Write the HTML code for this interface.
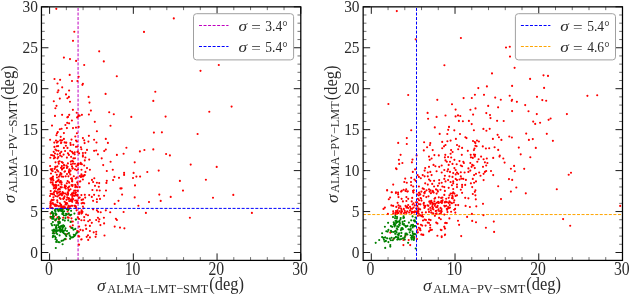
<!DOCTYPE html>
<html><head><meta charset="utf-8"><style>
html,body{margin:0;padding:0;background:#fff;width:630px;height:295px;overflow:hidden}
svg{display:block;will-change:transform}
text{font-family:"Liberation Serif",serif;fill:#2b2b2b}
.t{font-size:16.6px}
.tx{font-size:18.2px}
.lg{font-size:14.8px}
.ax{font-size:18px}
</style></head><body>
<svg width="630" height="295" viewBox="0 0 630 295">
<line x1="363.15" y1="214.55" x2="622.49" y2="214.55" stroke="#ffa500" stroke-width="1" stroke-dasharray="3.0 1.55"/>
<line x1="78.07" y1="260.40" x2="78.07" y2="6.85" stroke="#bf00bf" stroke-width="1" stroke-dasharray="2.99 1.545"/>
<path d="M56.3 8.8h0M173.8 18.4h0M74.3 31.7h0M144.0 31.9h0M73.0 40.8h0M99.2 51.3h0M63.9 57.6h0M70.0 59.1h0M76.1 60.9h0M103.8 61.4h0M84.2 65.0h0M200.5 70.8h0M69.7 74.9h0M78.7 76.7h0M116.8 76.2h0M54.5 79.0h0M60.1 79.8h0M72.0 81.0h0M77.4 81.0h0M218.8 65.0h0M57.5 83.5h0M82.9 83.8h0M82.4 84.8h0M62.2 87.3h0M58.4 90.4h0M57.6 92.2h0M69.1 90.5h0M66.0 94.4h0M105.6 93.9h0M68.9 96.9h0M67.4 98.2h0M59.8 98.6h0M88.6 96.9h0M53.8 101.2h0M70.0 101.7h0M89.5 102.6h0M56.5 105.8h0M55.4 108.2h0M72.9 109.8h0M90.9 110.6h0M76.7 112.7h0M109.2 112.2h0M113.8 114.2h0M55.0 115.9h0M62.1 114.8h0M69.2 114.8h0M78.7 115.3h0M79.7 115.7h0M81.9 114.8h0M88.9 114.5h0M67.3 117.3h0M68.0 116.9h0M77.1 117.4h0M78.2 116.3h0M155.3 91.7h0M153.3 100.9h0M231.6 106.6h0M209.3 111.7h0M131.3 116.9h0M165.6 116.6h0M153.9 132.6h0M161.9 132.3h0M197.6 134.0h0M126.4 147.7h0M123.6 153.7h0M139.9 151.4h0M144.4 150.0h0M153.3 149.4h0M166.1 154.0h0M169.9 155.4h0M134.7 162.3h0M190.7 164.6h0M216.7 166.9h0M124.1 172.9h0M124.1 174.9h0M133.6 172.9h0M136.4 176.6h0M133.0 178.0h0M140.1 176.6h0M147.3 172.0h0M158.7 170.6h0M179.9 180.9h0M205.9 179.7h0M135.0 185.4h0M121.6 188.3h0M183.0 190.6h0M122.1 194.6h0M159.3 194.6h0M134.7 197.4h0M170.7 196.9h0M213.0 197.7h0M233.3 194.9h0M149.0 202.0h0M160.7 200.9h0M138.4 205.7h0M123.6 212.0h0M145.9 212.9h0M189.9 217.7h0M251.9 212.9h0M124.4 228.3h0M71.9 120.5h0M67.2 122.8h0M69.1 123.3h0M65.4 125.0h0M94.8 121.8h0M52.0 125.6h0M110.5 125.7h0M59.8 129.2h0M61.6 128.7h0M66.9 128.1h0M73.0 128.1h0M76.0 127.6h0M78.7 126.9h0M57.8 132.1h0M57.0 133.2h0M96.9 131.2h0M63.9 133.1h0M76.9 133.2h0M56.4 135.2h0M60.7 136.8h0M88.9 135.8h0M75.3 136.5h0M63.9 138.9h0M82.9 138.1h0M50.1 139.7h0M71.5 139.6h0M94.1 139.7h0M105.8 138.9h0M56.0 140.6h0M57.9 141.6h0M60.6 140.3h0M76.0 140.6h0M84.2 140.3h0M54.3 142.6h0M56.9 142.6h0M61.3 142.6h0M84.6 143.1h0M88.4 141.6h0M96.5 142.5h0M107.9 142.9h0M70.7 144.9h0M56.8 146.2h0M58.1 146.1h0M63.9 147.9h0M67.5 147.9h0M76.0 146.8h0M80.9 147.2h0M81.4 149.2h0M55.4 149.5h0M56.5 150.5h0M58.5 150.8h0M53.7 151.8h0M61.3 151.8h0M65.1 151.0h0M70.2 150.8h0M72.0 151.8h0M74.7 152.3h0M77.8 151.6h0M87.0 149.9h0M94.1 150.8h0M96.2 150.5h0M104.2 151.0h0M105.8 149.5h0M55.0 153.5h0M57.5 154.3h0M60.0 153.3h0M63.6 154.6h0M67.9 153.3h0M68.9 154.9h0M73.0 153.3h0M74.7 154.3h0M79.1 153.3h0M82.9 153.0h0M85.4 152.8h0M82.9 155.2h0M97.9 154.3h0M116.9 154.9h0M52.4 155.2h0M54.0 155.8h0M82.9 156.6h0M85.4 157.5h0M84.8 160.4h0M89.2 159.6h0M101.7 158.3h0M110.6 161.7h0M81.9 164.2h0M84.2 165.5h0M103.2 165.1h0M87.0 168.1h0M89.9 169.7h0M85.4 171.9h0M112.8 169.7h0M106.8 171.0h0M81.4 174.4h0M84.8 175.1h0M83.5 176.3h0M80.8 176.9h0M82.9 179.5h0M114.4 176.9h0M119.0 177.8h0M113.1 180.1h0M92.0 179.9h0M94.3 178.2h0M93.1 182.0h0M96.9 182.7h0M99.2 183.1h0M106.8 180.8h0M106.4 182.9h0M89.0 183.3h0M95.0 185.8h0M98.8 186.7h0M79.7 187.1h0M92.4 190.0h0M96.9 190.3h0M99.7 190.5h0M106.0 190.5h0M120.4 188.4h0M89.2 195.1h0M94.1 194.8h0M98.8 195.7h0M104.1 195.7h0M81.4 195.1h0M84.8 194.8h0M85.2 197.6h0M81.6 199.9h0M79.7 197.6h0M91.8 196.9h0M96.9 199.2h0M100.0 198.9h0M93.1 200.8h0M96.9 202.0h0M114.7 203.9h0M118.5 200.8h0M81.6 203.3h0M84.2 203.3h0M82.9 206.5h0M93.1 209.3h0M96.9 210.3h0M98.1 211.8h0M100.7 212.2h0M105.8 210.3h0M110.2 212.2h0M81.6 210.3h0M79.1 212.2h0M79.1 213.9h0M81.4 213.6h0M86.1 214.5h0M88.0 215.2h0M84.2 217.1h0M79.1 219.0h0M81.4 220.2h0M84.2 220.2h0M88.2 221.2h0M89.9 220.0h0M91.8 222.8h0M96.2 220.0h0M97.9 217.7h0M99.4 219.2h0M103.9 217.7h0M98.8 221.5h0M100.4 225.1h0M104.1 223.4h0M115.9 218.7h0M116.9 220.0h0M114.7 226.6h0M120.0 227.6h0M85.7 225.3h0M89.9 225.9h0M86.2 228.9h0M79.1 226.6h0M80.4 229.8h0M82.9 230.4h0M78.8 231.7h0M89.9 231.0h0M93.7 232.3h0M96.2 231.7h0M96.2 234.2h0M104.5 235.5h0M88.0 235.2h0M86.7 236.8h0M89.9 237.4h0M95.6 236.8h0M81.6 239.3h0M88.2 239.9h0M53.1 215.2h0M56.2 214.5h0M57.5 217.4h0M63.2 217.7h0M67.7 217.4h0M71.5 218.3h0M72.8 221.5h0M72.8 225.3h0M70.2 226.6h0M71.5 227.9h0M60.0 229.1h0M77.2 231.0h0M53.7 232.3h0M66.4 234.2h0M79.1 244.7h0M65.7 239.2h0M78.5 236.1h0M79.2 236.4h0M78.9 244.6h0M81.2 239.5h0M62.2 140.2h0M73.3 144.8h0M61.0 143.1h0M66.3 142.6h0M54.4 146.9h0M66.2 142.8h0M65.9 145.7h0M76.9 141.5h0M77.4 146.6h0M64.6 142.4h0M70.4 143.0h0M60.2 140.4h0M60.2 155.5h0M77.4 151.9h0M51.1 155.0h0M74.9 163.7h0M58.3 157.0h0M64.0 164.9h0M67.9 163.4h0M59.6 161.2h0M71.0 164.2h0M73.4 158.3h0M75.0 158.2h0M73.2 161.6h0M58.5 161.9h0M66.4 165.6h0M55.0 157.6h0M77.6 164.3h0M57.6 158.3h0M66.9 157.6h0M61.8 156.5h0M71.1 156.8h0M77.9 165.2h0M72.9 163.7h0M62.8 162.8h0M72.3 160.8h0M55.5 162.3h0M61.8 162.1h0M64.1 165.5h0M58.8 163.7h0M70.8 161.6h0M50.3 157.7h0M53.9 158.3h0M54.6 168.9h0M65.0 171.2h0M50.1 166.0h0M63.9 167.8h0M67.0 174.0h0M52.7 171.1h0M61.4 173.9h0M76.7 170.2h0M56.8 174.8h0M50.8 169.3h0M61.0 167.8h0M69.0 171.2h0M57.0 170.1h0M69.4 169.2h0M51.9 170.6h0M55.5 172.2h0M55.6 167.3h0M75.0 169.3h0M58.2 171.4h0M69.4 172.7h0M72.4 168.6h0M62.0 169.6h0M64.5 171.7h0M67.6 166.7h0M60.4 173.1h0M51.0 173.5h0M69.2 170.0h0M62.6 168.6h0M70.6 170.8h0M57.4 166.3h0M59.7 175.2h0M68.9 172.3h0M76.2 166.3h0M66.9 167.9h0M61.1 167.8h0M59.8 175.0h0M70.3 174.5h0M52.1 169.0h0M72.0 166.4h0M55.3 166.8h0M72.9 168.3h0M61.9 166.1h0M53.2 184.2h0M72.2 181.5h0M58.9 176.7h0M52.8 178.4h0M55.8 185.1h0M60.0 191.6h0M58.0 189.7h0M52.6 184.4h0M65.4 186.5h0M61.5 184.4h0M71.8 178.4h0M64.9 185.4h0M71.9 178.6h0M61.6 176.4h0M68.5 189.9h0M59.9 189.1h0M68.4 176.3h0M63.2 176.7h0M58.8 188.8h0M53.5 185.1h0M51.6 177.8h0M76.7 177.5h0M54.9 191.0h0M58.6 179.5h0M52.7 184.0h0M51.6 179.5h0M56.2 187.9h0M54.5 185.4h0M56.8 191.9h0M77.7 190.8h0M75.2 184.9h0M76.1 186.2h0M54.5 187.7h0M73.8 176.2h0M55.5 188.6h0M71.5 185.0h0M53.4 180.2h0M56.6 191.7h0M56.3 181.9h0M69.3 186.6h0M65.7 186.4h0M74.2 190.6h0M53.0 176.5h0M75.6 190.6h0M60.3 182.4h0M69.2 182.7h0M53.1 180.0h0M58.5 185.1h0M54.8 187.7h0M77.2 182.2h0M66.0 186.2h0M72.3 186.1h0M64.5 187.5h0M50.7 191.0h0M75.2 187.1h0M55.6 186.0h0M50.8 182.4h0M56.0 185.0h0M57.0 177.5h0M72.2 180.0h0M65.7 176.3h0M65.8 188.6h0M72.0 181.2h0M53.6 185.8h0M58.6 180.6h0M55.9 182.3h0M69.1 182.4h0M68.1 187.7h0M72.7 185.1h0M77.7 184.0h0M65.0 186.5h0M77.2 187.2h0M75.7 178.5h0M61.8 187.3h0M70.5 189.3h0M57.5 181.0h0M61.6 182.3h0M52.6 182.2h0M68.0 187.8h0M56.4 185.9h0M71.0 178.5h0M50.4 178.6h0M69.0 190.6h0M60.8 181.0h0M67.6 181.1h0M51.1 179.9h0M66.8 183.3h0M59.7 182.3h0M53.8 188.3h0M60.5 187.0h0M65.9 202.8h0M72.3 193.6h0M62.6 192.1h0M71.1 194.8h0M77.3 194.7h0M64.2 197.9h0M73.2 199.1h0M74.7 195.8h0M52.7 194.2h0M51.3 200.5h0M69.2 201.1h0M71.9 193.5h0M51.8 199.9h0M50.0 196.0h0M66.5 199.8h0M67.2 203.4h0M77.3 195.7h0M58.8 192.3h0M53.4 197.3h0M68.0 194.8h0M52.8 200.2h0M68.8 198.0h0M54.0 194.4h0M57.5 202.2h0M75.9 192.6h0M76.2 202.9h0M72.2 194.8h0M77.1 201.7h0M53.9 192.4h0M60.6 198.9h0M50.7 203.5h0M68.8 198.2h0M63.8 193.3h0M70.9 200.9h0M50.6 201.7h0M59.9 203.2h0M59.6 194.5h0M55.5 196.0h0M52.0 193.9h0M63.2 198.6h0M65.6 193.6h0M50.7 193.8h0M75.2 193.6h0M69.1 198.7h0M66.8 203.2h0M57.2 200.4h0M64.5 196.4h0M61.2 194.4h0M52.8 203.1h0M67.9 194.0h0M72.5 194.2h0M68.5 199.0h0M72.3 196.9h0M76.8 200.6h0M62.6 193.4h0M57.2 193.6h0M64.6 201.7h0M70.8 199.6h0M62.0 195.3h0M72.5 200.1h0M68.6 198.7h0M72.1 199.1h0M57.4 196.5h0M58.7 195.5h0M75.2 200.5h0M67.2 197.4h0M63.6 193.3h0M63.3 199.1h0M59.8 198.1h0M78.0 203.0h0M52.2 203.3h0M72.2 201.8h0M72.5 194.5h0M53.7 199.7h0M73.2 193.2h0M50.4 203.4h0M75.5 195.1h0M73.2 195.6h0M73.6 192.2h0M67.0 194.7h0M67.8 192.3h0M68.1 193.2h0M62.4 192.8h0M60.7 193.9h0M58.9 206.3h0M67.8 207.2h0M64.1 208.3h0M61.1 204.7h0M68.5 205.8h0M75.2 205.9h0M50.4 205.7h0M75.9 206.4h0M72.2 205.8h0M66.4 204.4h0M55.5 204.5h0M60.9 205.6h0M65.1 207.2h0M56.5 205.3h0M50.7 204.6h0M60.3 208.5h0M55.1 206.0h0M50.4 206.9h0M61.4 205.7h0M60.5 205.4h0M61.0 204.9h0M69.2 208.7h0M74.5 205.8h0M50.3 207.8h0M62.5 206.7h0M67.7 208.1h0M64.0 206.2h0M53.5 204.2h0M54.5 204.8h0M75.4 206.8h0M50.7 205.6h0M61.1 208.2h0M61.2 206.7h0M57.1 205.6h0M52.1 207.9h0M63.2 207.7h0M65.5 204.4h0M57.3 205.6h0M71.2 205.7h0M76.1 208.0h0M68.7 206.7h0M68.7 205.7h0M52.8 208.3h0M62.4 208.8h0M69.8 206.9h0M61.5 207.4h0M56.5 205.8h0M59.0 219.6h0M76.6 210.3h0M50.7 213.6h0M69.1 214.7h0M71.3 221.6h0M68.7 217.7h0M54.0 216.6h0M67.6 211.5h0M50.7 217.8h0M77.8 217.4h0M55.6 220.3h0M79.9 176.1h0M82.9 202.8h0M83.6 208.2h0M78.0 169.5h0M81.5 169.7h0M83.1 199.4h0M82.5 211.7h0M82.2 212.8h0M80.8 164.0h0M81.1 212.0h0M81.7 175.0h0M78.6 163.9h0M78.7 197.9h0M80.0 181.6h0M83.8 175.6h0M81.9 176.6h0M80.3 181.2h0M80.7 162.9h0" stroke="#ff0000" stroke-width="2.15" stroke-linecap="round" fill="none"/>
<path d="M52.4 230.3h0M54.8 230.8h0M58.9 230.5h0M60.6 231.0h0M63.0 230.7h0M65.0 230.3h0M67.0 231.0h0M52.8 233.2h0M54.1 233.5h0M56.2 233.1h0M57.2 234.1h0M59.6 235.4h0M53.1 235.8h0M52.8 237.1h0M54.8 236.4h0M55.8 237.8h0M55.5 239.2h0M56.9 240.2h0M56.2 241.9h0M58.2 242.1h0M59.6 242.2h0M61.6 240.8h0M63.0 240.5h0M64.3 239.5h0M65.3 238.8h0M63.6 233.1h0M65.0 234.1h0M65.7 235.1h0M66.3 236.1h0M67.7 233.7h0M69.0 233.1h0M69.7 235.4h0M70.4 236.8h0M71.8 237.5h0M73.1 237.1h0M74.5 236.1h0M75.2 235.1h0M73.8 234.8h0M76.2 233.4h0M77.2 232.4h0M62.6 244.2h0M55.8 248.0h0M70.1 238.8h0M59.7 221.8h0M53.3 231.4h0M63.8 215.3h0M56.1 226.9h0M58.1 222.0h0M61.2 226.3h0M55.2 220.2h0M61.7 229.3h0M62.4 227.4h0M59.9 209.6h0M56.4 225.3h0M54.9 210.4h0M59.1 226.7h0M64.0 225.8h0M57.4 209.7h0M60.2 229.5h0M58.2 221.9h0M53.1 216.4h0M59.1 227.5h0M55.9 228.1h0M59.1 221.8h0M54.4 225.0h0M53.6 218.7h0M62.6 229.0h0M63.3 213.4h0M62.9 219.8h0M54.0 229.6h0M63.4 231.4h0M56.3 214.2h0M63.1 225.4h0M63.1 225.8h0M63.8 225.8h0M61.8 230.2h0M57.2 230.2h0M57.0 231.1h0M58.5 223.7h0M52.1 216.8h0M55.3 209.3h0M55.8 214.9h0M53.3 214.9h0M62.3 214.0h0M60.4 231.8h0M52.1 225.3h0M53.6 213.2h0M55.7 230.1h0M62.5 211.1h0M61.5 210.9h0M56.3 232.0h0M62.6 211.5h0M58.8 218.7h0M60.1 228.8h0M58.7 230.4h0M62.8 212.8h0M52.7 213.6h0M58.1 225.0h0M62.2 225.8h0M59.9 222.8h0M59.9 218.2h0M60.0 228.2h0M62.3 225.5h0M60.1 210.7h0M55.9 219.5h0M55.7 213.6h0M56.5 228.2h0M55.2 230.5h0M52.1 218.7h0M60.7 226.4h0M52.1 211.7h0M52.9 222.0h0M53.1 218.1h0M55.4 211.4h0M56.5 219.0h0M58.9 216.9h0M52.8 216.6h0M60.3 209.1h0M58.3 209.4h0M62.4 213.5h0M58.4 211.1h0M58.6 227.2h0M63.0 227.2h0M62.7 209.2h0M61.7 210.1h0M62.5 231.9h0M51.4 223.7h0M51.5 212.8h0M51.7 212.8h0M50.5 216.7h0M65.4 218.1h0M64.8 220.6h0M65.5 228.3h0M65.7 215.5h0M64.1 211.2h0M64.2 226.2h0M66.9 214.3h0M66.0 213.8h0M68.7 213.5h0M74.4 213.6h0M66.8 209.2h0M70.2 215.3h0M71.1 210.8h0M71.2 214.7h0M68.3 209.9h0M70.6 221.9h0M68.2 220.3h0M72.5 228.1h0M75.8 219.6h0M75.3 228.9h0M73.5 229.7h0M71.5 227.7h0M76.1 219.5h0" stroke="#008000" stroke-width="2.15" stroke-linecap="round" fill="none"/>
<path d="M49.60 260.40V253.40M49.60 6.85V13.85M133.33 260.40V253.40M133.33 6.85V13.85M217.06 260.40V253.40M217.06 6.85V13.85M300.79 260.40V253.40M300.79 6.85V13.85M41.45 252.50H48.45M300.79 252.50H293.79M41.45 211.55H48.45M300.79 211.55H293.79M41.45 170.60H48.45M300.79 170.60H293.79M41.45 129.65H48.45M300.79 129.65H293.79M41.45 88.70H48.45M300.79 88.70H293.79M41.45 47.75H48.45M300.79 47.75H293.79M41.45 6.80H48.45M300.79 6.80H293.79" stroke="#000" stroke-width="0.90" fill="none"/>
<path d="M66.35 260.40V257.10M66.35 6.85V10.15M83.09 260.40V257.10M83.09 6.85V10.15M99.84 260.40V257.10M99.84 6.85V10.15M116.58 260.40V257.10M116.58 6.85V10.15M150.08 260.40V257.10M150.08 6.85V10.15M166.82 260.40V257.10M166.82 6.85V10.15M183.57 260.40V257.10M183.57 6.85V10.15M200.31 260.40V257.10M200.31 6.85V10.15M233.81 260.40V257.10M233.81 6.85V10.15M250.55 260.40V257.10M250.55 6.85V10.15M267.30 260.40V257.10M267.30 6.85V10.15M284.04 260.40V257.10M284.04 6.85V10.15M41.45 244.31H44.75M300.79 244.31H297.49M41.45 236.12H44.75M300.79 236.12H297.49M41.45 227.93H44.75M300.79 227.93H297.49M41.45 219.74H44.75M300.79 219.74H297.49M41.45 203.36H44.75M300.79 203.36H297.49M41.45 195.17H44.75M300.79 195.17H297.49M41.45 186.98H44.75M300.79 186.98H297.49M41.45 178.79H44.75M300.79 178.79H297.49M41.45 162.41H44.75M300.79 162.41H297.49M41.45 154.22H44.75M300.79 154.22H297.49M41.45 146.03H44.75M300.79 146.03H297.49M41.45 137.84H44.75M300.79 137.84H297.49M41.45 121.46H44.75M300.79 121.46H297.49M41.45 113.27H44.75M300.79 113.27H297.49M41.45 105.08H44.75M300.79 105.08H297.49M41.45 96.89H44.75M300.79 96.89H297.49M41.45 80.51H44.75M300.79 80.51H297.49M41.45 72.32H44.75M300.79 72.32H297.49M41.45 64.13H44.75M300.79 64.13H297.49M41.45 55.94H44.75M300.79 55.94H297.49M41.45 39.56H44.75M300.79 39.56H297.49M41.45 31.37H44.75M300.79 31.37H297.49M41.45 23.18H44.75M300.79 23.18H297.49M41.45 14.99H44.75M300.79 14.99H297.49" stroke="#333" stroke-width="0.70" fill="none"/>
<text transform="translate(48.85 275.20) scale(0.865 1)" text-anchor="middle" class="tx">0</text>
<text transform="translate(132.58 275.20) scale(0.865 1)" text-anchor="middle" class="tx">10</text>
<text transform="translate(216.31 275.20) scale(0.865 1)" text-anchor="middle" class="tx">20</text>
<text transform="translate(300.04 275.20) scale(0.865 1)" text-anchor="middle" class="tx">30</text>
<text transform="translate(37.85 257.65) scale(0.930 1)" text-anchor="end" class="t">0</text>
<text transform="translate(37.85 216.70) scale(0.930 1)" text-anchor="end" class="t">5</text>
<text transform="translate(37.85 175.75) scale(0.930 1)" text-anchor="end" class="t">10</text>
<text transform="translate(37.85 134.80) scale(0.930 1)" text-anchor="end" class="t">15</text>
<text transform="translate(37.85 93.85) scale(0.930 1)" text-anchor="end" class="t">20</text>
<text transform="translate(37.85 52.90) scale(0.930 1)" text-anchor="end" class="t">25</text>
<text transform="translate(37.85 11.95) scale(0.930 1)" text-anchor="end" class="t">30</text>
<path d="M396.8 11.1h0M415.7 39.3h0M460.9 38.0h0M506.0 47.5h0M509.8 46.7h0M510.0 56.6h0M444.4 65.2h0M492.0 73.4h0M514.6 67.8h0M530.1 78.9h0M543.5 75.3h0M548.0 75.9h0M544.1 87.9h0M537.0 96.8h0M542.3 100.1h0M546.2 100.7h0M587.4 95.8h0M597.2 95.2h0M525.2 105.1h0M528.5 111.2h0M536.8 114.1h0M566.9 114.1h0M550.6 118.5h0M408.2 95.0h0M388.4 104.0h0M437.3 99.8h0M427.6 112.9h0M436.6 116.9h0M428.1 118.7h0M478.3 88.1h0M486.9 86.4h0M512.1 85.9h0M474.9 94.7h0M484.0 94.8h0M463.6 98.1h0M471.8 98.0h0M495.2 97.6h0M500.8 99.7h0M509.7 95.7h0M512.1 99.7h0M511.7 100.8h0M516.9 101.8h0M452.0 104.2h0M488.2 105.9h0M498.1 107.3h0M455.6 109.6h0M470.4 109.7h0M475.5 108.4h0M512.1 111.1h0M473.1 114.6h0M486.3 113.1h0M490.0 115.1h0M490.5 118.1h0M445.5 115.5h0M455.6 116.4h0M458.0 115.4h0M460.3 116.0h0M533.2 121.6h0M535.2 123.9h0M540.1 122.7h0M548.6 119.8h0M526.2 133.6h0M546.8 133.8h0M528.9 139.9h0M532.8 139.1h0M552.9 140.8h0M535.8 147.9h0M530.3 157.2h0M524.2 168.8h0M568.7 174.7h0M571.0 172.7h0M525.8 193.3h0M556.8 189.2h0M620.2 205.9h0M563.1 219.1h0M570.2 225.7h0M434.8 127.4h0M411.2 130.2h0M439.7 133.9h0M406.8 138.1h0M398.2 142.9h0M406.8 144.0h0M424.1 142.2h0M430.3 143.1h0M429.9 145.0h0M442.2 141.9h0M427.1 147.2h0M423.8 150.4h0M432.7 150.1h0M442.2 148.2h0M400.6 154.8h0M416.6 155.4h0M434.4 155.1h0M438.8 155.4h0M458.9 120.9h0M462.9 121.2h0M468.9 120.9h0M471.7 124.1h0M497.1 120.8h0M503.7 121.0h0M449.0 126.9h0M448.2 129.8h0M454.3 130.3h0M473.9 130.2h0M483.4 128.9h0M486.4 130.7h0M489.7 128.8h0M447.3 134.0h0M460.0 134.0h0M465.4 137.2h0M466.5 138.1h0M497.6 134.8h0M498.9 137.2h0M509.3 136.5h0M511.9 137.5h0M455.9 138.9h0M492.9 138.9h0M501.4 139.9h0M447.4 141.2h0M450.6 140.6h0M473.0 141.0h0M474.8 142.1h0M477.0 140.6h0M478.9 141.5h0M475.4 143.1h0M445.5 145.0h0M444.0 146.3h0M457.0 145.0h0M459.2 146.3h0M458.2 149.2h0M462.1 147.9h0M475.4 145.7h0M476.6 146.2h0M474.5 148.5h0M473.9 150.1h0M482.8 146.4h0M485.9 148.5h0M489.2 148.2h0M494.6 147.2h0M498.2 149.9h0M518.8 147.6h0M451.1 150.1h0M452.6 152.0h0M467.8 150.8h0M445.3 154.8h0M450.6 153.7h0M461.8 154.8h0M470.7 154.8h0M473.9 154.6h0M475.1 154.8h0M520.7 154.3h0M499.8 155.6h0M444.9 157.3h0M448.1 157.0h0M451.2 157.5h0M445.5 160.4h0M446.8 161.7h0M450.0 161.7h0M454.4 159.8h0M459.5 161.1h0M463.3 161.7h0M463.9 163.0h0M470.9 157.3h0M472.8 157.9h0M474.8 156.6h0M481.1 156.6h0M478.6 159.2h0M477.3 161.7h0M483.6 159.2h0M486.8 158.5h0M484.9 162.3h0M487.4 163.0h0M493.2 157.9h0M499.5 156.6h0M503.3 158.5h0M504.6 162.6h0M448.7 164.9h0M452.5 163.9h0M456.7 164.2h0M460.8 165.5h0M462.1 166.2h0M470.3 163.0h0M472.2 164.9h0M471.6 166.8h0M473.5 165.5h0M474.8 168.1h0M468.4 168.4h0M483.0 166.8h0M486.2 165.5h0M454.4 168.1h0M455.7 170.0h0M448.1 169.3h0M447.4 171.2h0M510.9 168.7h0M514.1 165.9h0M514.8 171.2h0M444.3 170.0h0M450.0 171.9h0M453.2 173.1h0M457.0 172.5h0M458.2 173.8h0M460.8 172.2h0M464.6 172.5h0M468.4 171.9h0M470.3 170.6h0M476.0 173.8h0M474.1 175.1h0M479.2 172.5h0M480.5 175.7h0M483.6 173.8h0M484.9 171.9h0M486.2 171.0h0M491.0 171.0h0M493.2 175.1h0M444.9 175.7h0M449.4 176.3h0M452.5 176.9h0M455.7 174.4h0M460.8 176.3h0M444.3 178.9h0M448.1 180.1h0M445.5 181.4h0M450.6 182.0h0M453.2 181.4h0M455.7 178.9h0M457.0 180.1h0M459.5 179.5h0M461.4 178.6h0M463.3 178.9h0M465.9 179.9h0M472.8 178.9h0M476.0 181.4h0M474.1 182.7h0M470.9 183.3h0M483.6 180.1h0M509.0 179.1h0M512.2 179.9h0M453.2 183.3h0M451.9 185.2h0M457.0 184.6h0M462.1 184.9h0M465.2 184.9h0M444.3 187.1h0M448.7 187.8h0M453.2 189.0h0M457.0 187.1h0M460.8 189.7h0M462.1 187.1h0M472.2 187.1h0M475.4 190.3h0M474.8 191.8h0M498.2 186.2h0M516.3 187.5h0M510.9 191.6h0M444.9 190.9h0M453.2 192.2h0M462.1 192.8h0M444.3 194.9h0M450.6 193.6h0M452.5 193.4h0M454.4 193.6h0M457.0 195.3h0M446.2 198.7h0M448.7 197.8h0M451.9 198.1h0M444.9 202.5h0M446.8 202.1h0M448.7 202.9h0M450.6 202.5h0M451.9 203.2h0M453.8 202.5h0M455.7 205.1h0M458.2 205.1h0M444.3 205.7h0M446.2 205.7h0M448.1 207.0h0M450.0 207.6h0M446.8 208.9h0M448.7 208.2h0M455.1 208.9h0M465.2 197.8h0M468.4 198.3h0M472.8 194.0h0M475.4 195.3h0M475.8 199.3h0M465.6 205.9h0M469.9 207.0h0M476.3 206.3h0M483.0 203.8h0M501.0 199.1h0M444.3 214.6h0M471.9 213.9h0M483.4 215.2h0M467.1 216.9h0M449.4 218.4h0M458.0 220.7h0M472.2 220.9h0M476.0 222.2h0M493.8 221.6h0M445.5 222.8h0M446.8 223.1h0M459.1 224.8h0M444.3 226.7h0M444.9 228.6h0M485.9 227.7h0M444.9 235.1h0M461.2 236.1h0M494.1 231.9h0M398.9 159.8h0M399.2 163.9h0M402.4 163.0h0M411.9 162.3h0M412.5 159.6h0M396.0 168.4h0M396.6 169.1h0M415.1 169.3h0M412.8 171.9h0M417.6 175.1h0M418.9 176.9h0M420.8 178.2h0M405.2 178.6h0M404.3 182.0h0M406.8 182.7h0M411.2 177.8h0M411.0 182.0h0M414.4 179.5h0M415.7 180.8h0M393.2 184.6h0M411.2 185.2h0M413.2 186.5h0M413.8 190.3h0M418.9 186.5h0M387.1 190.0h0M391.6 192.2h0M396.0 192.2h0M401.7 190.9h0M403.6 189.7h0M406.2 189.3h0M407.4 191.6h0M413.2 192.2h0M429.0 156.6h0M431.6 158.5h0M429.7 159.8h0M433.5 164.9h0M435.4 166.2h0M429.0 166.8h0M425.2 168.1h0M439.2 166.8h0M441.7 165.5h0M424.6 170.6h0M427.8 172.5h0M430.3 171.9h0M431.6 175.1h0M436.6 171.2h0M441.7 172.5h0M422.7 175.1h0M424.6 176.3h0M427.8 176.3h0M429.0 179.5h0M430.3 180.8h0M434.1 180.8h0M439.2 180.1h0M425.2 183.3h0M427.8 184.6h0M432.2 183.9h0M434.1 186.5h0M437.9 185.8h0M439.2 183.3h0M441.7 182.7h0M422.7 188.4h0M423.9 189.0h0M426.5 190.3h0M429.0 189.3h0M432.8 190.9h0M436.0 189.3h0M437.9 191.6h0M440.5 189.7h0M421.4 191.6h0M418.9 192.8h0M442.4 186.5h0M393.5 239.0h0M403.4 240.0h0M408.7 240.0h0M403.4 245.1h0M410.2 245.1h0M405.5 235.8h0M390.3 232.6h0M414.4 237.1h0M420.1 230.1h0M421.7 234.5h0M423.3 234.9h0M429.0 231.3h0M430.3 230.1h0M441.5 230.1h0M441.7 237.1h0M417.4 232.6h0M417.0 239.0h0M387.1 190.4h0M391.9 192.2h0M395.9 193.1h0M398.1 192.6h0M398.1 194.4h0M401.1 191.6h0M405.6 190.9h0M407.8 191.3h0M413.0 190.9h0M413.5 192.6h0M390.1 197.5h0M388.8 199.2h0M398.5 197.1h0M401.6 198.8h0M406.4 197.1h0M408.2 198.8h0M412.2 197.9h0M417.0 194.4h0M417.9 198.8h0M418.8 195.3h0M406.4 201.0h0M402.9 201.4h0M397.6 202.8h0M411.7 201.4h0M413.5 203.2h0M416.1 202.3h0M418.8 204.1h0M391.4 205.4h0M393.2 205.9h0M396.3 206.7h0M398.5 205.4h0M400.3 206.3h0M405.6 205.9h0M408.2 205.0h0M410.0 206.7h0M412.6 204.5h0M414.8 205.4h0M417.4 206.3h0M384.9 207.6h0M383.5 208.9h0M398.9 208.1h0M401.1 208.5h0M403.8 208.9h0M406.4 207.6h0M408.2 208.1h0M410.8 208.5h0M413.5 207.6h0M416.1 208.5h0M418.8 208.9h0M393.2 211.2h0M397.6 210.3h0M399.8 211.2h0M402.0 211.6h0M404.7 210.7h0M407.3 211.2h0M410.0 210.4h0M411.7 211.6h0M414.8 211.2h0M417.4 211.2h0M393.2 213.3h0M398.5 213.1h0M401.1 212.9h0M403.8 213.3h0M406.4 212.9h0M409.1 212.5h0M411.7 213.1h0M414.4 212.5h0M417.9 213.1h0M387.9 213.8h0M395.4 214.2h0M417.9 215.8h0M420.1 215.4h0M422.2 215.0h0M421.8 216.2h0M423.0 216.7h0M434.9 215.8h0M439.1 217.9h0M440.8 219.2h0M423.0 220.5h0M424.7 219.6h0M426.0 220.1h0M429.0 219.6h0M430.6 220.1h0M427.7 222.6h0M429.0 223.0h0M436.2 222.6h0M437.4 223.4h0M445.1 223.0h0M417.9 223.9h0M420.9 224.7h0M422.2 225.6h0M425.6 225.6h0M430.2 225.1h0M430.2 227.7h0M418.8 227.7h0M420.1 228.5h0M417.5 229.8h0M420.5 230.2h0M431.9 229.8h0M429.0 231.5h0M440.8 229.8h0M444.2 226.8h0M445.1 228.5h0M417.9 232.3h0M421.3 234.5h0M423.0 234.9h0M437.4 235.7h0M441.7 236.2h0M445.1 234.5h0M424.2 192.7h0M420.6 198.1h0M435.2 197.9h0M433.7 192.6h0M419.3 192.6h0M437.5 190.2h0M430.9 193.2h0M424.5 193.3h0M432.4 191.7h0M421.1 198.5h0M436.6 193.6h0M423.5 195.8h0M441.2 197.9h0M428.5 196.3h0M426.3 197.1h0M430.5 190.3h0M434.5 198.7h0M429.6 191.6h0M424.9 191.9h0M438.8 197.3h0M424.7 193.0h0M420.3 194.4h0M442.4 197.6h0M441.3 201.0h0M441.1 212.8h0M438.1 201.8h0M439.6 213.7h0M436.2 207.2h0M425.9 212.3h0M432.6 204.5h0M419.1 200.2h0M435.2 204.1h0M420.4 204.3h0M429.0 211.9h0M429.3 201.8h0M438.5 209.4h0M431.2 212.6h0M427.5 205.4h0M418.4 209.7h0M433.2 213.3h0M417.2 205.8h0M428.4 205.8h0M418.1 211.4h0M418.1 209.0h0M425.1 205.9h0M438.8 202.9h0M430.3 203.7h0M432.9 207.6h0M434.4 201.3h0M433.4 209.3h0M418.8 213.6h0M439.1 211.1h0M437.4 207.0h0M440.8 202.2h0M436.3 213.7h0M418.6 209.1h0M442.3 202.0h0M431.5 212.6h0M423.9 202.9h0M435.7 211.1h0M441.5 209.1h0M418.4 211.5h0M424.4 207.9h0M435.7 213.7h0M431.3 202.0h0M430.3 207.8h0M436.6 202.7h0M431.3 200.7h0M442.6 200.3h0M431.1 202.4h0M424.1 205.6h0M423.6 203.7h0M425.0 207.0h0M441.9 202.9h0M421.5 200.6h0M440.8 211.0h0M438.6 202.1h0M428.5 209.4h0M430.8 210.2h0M422.1 212.6h0M432.4 208.6h0M432.2 206.2h0M417.3 202.3h0M429.5 201.2h0M432.5 202.7h0M434.8 205.7h0M434.1 203.7h0M420.2 209.3h0M438.5 202.9h0M417.9 212.2h0M436.6 210.7h0M437.6 205.8h0M441.7 211.3h0M436.6 213.2h0M440.6 207.9h0M418.5 208.3h0M449.4 195.3h0M447.1 209.8h0M451.1 211.7h0M452.8 198.3h0M452.3 195.8h0M454.3 200.3h0M455.6 195.9h0M452.6 196.8h0M454.2 209.7h0M449.7 205.1h0M445.9 201.6h0M444.9 202.1h0M444.8 206.4h0M449.4 201.4h0M447.5 212.1h0M455.3 212.6h0M397.4 211.9h0M397.5 211.3h0M415.9 211.7h0M412.1 208.8h0M396.3 207.0h0M413.0 212.1h0M407.1 206.8h0M405.0 212.4h0M397.3 213.1h0M396.6 211.5h0M395.4 212.7h0M401.6 210.0h0M395.9 211.0h0" stroke="#ff0000" stroke-width="2.15" stroke-linecap="round" fill="none"/>
<path d="M375.7 242.8h0M379.2 240.0h0M382.1 237.1h0M383.9 239.6h0M384.6 241.5h0M385.9 240.9h0M385.2 247.9h0M388.4 242.1h0M390.3 245.1h0M390.3 246.6h0M392.8 240.2h0M394.1 238.3h0M397.3 239.6h0M401.1 239.0h0M403.0 238.3h0M408.1 242.8h0M411.2 237.7h0M413.8 237.1h0M415.7 248.5h0M382.1 233.2h0M383.3 237.7h0M387.1 238.3h0M391.6 237.7h0M396.0 237.1h0M404.9 237.1h0M407.4 234.5h0M410.6 235.2h0M414.4 233.9h0M400.7 218.0h0M395.9 236.7h0M400.4 219.5h0M414.9 221.3h0M405.4 225.9h0M395.3 224.9h0M410.9 229.0h0M412.6 216.4h0M394.6 226.4h0M407.4 225.9h0M398.6 235.5h0M412.5 231.6h0M395.2 233.8h0M406.6 233.6h0M409.6 229.5h0M401.2 236.1h0M414.2 238.8h0M399.3 221.1h0M396.6 232.3h0M415.1 221.7h0M402.8 229.1h0M402.0 229.2h0M400.9 230.1h0M415.5 234.3h0M415.1 226.1h0M395.6 220.8h0M397.6 234.5h0M397.4 229.5h0M414.2 226.1h0M397.7 237.3h0M415.5 217.6h0M411.7 239.4h0M399.1 224.6h0M396.6 221.2h0M410.5 226.6h0M399.4 224.8h0M413.8 239.9h0M399.7 222.4h0M398.5 234.8h0M413.8 220.6h0M394.5 224.0h0M411.9 236.3h0M414.8 226.1h0M393.0 217.1h0M411.4 225.0h0M396.1 222.8h0M394.4 238.0h0M402.3 228.1h0M396.8 228.5h0M398.1 238.5h0M412.8 233.2h0M405.5 233.5h0M394.0 224.7h0M413.1 235.0h0M399.6 225.2h0M395.3 216.0h0M414.8 220.4h0M411.2 220.3h0M402.9 229.1h0M396.4 222.8h0M395.3 216.1h0M400.8 236.2h0M397.3 226.4h0M401.4 228.4h0M397.1 217.1h0M399.9 239.5h0M405.9 226.8h0M399.1 233.2h0M395.6 230.7h0M404.0 217.7h0M404.0 224.1h0M392.2 226.8h0M396.9 218.6h0M408.5 229.3h0M401.4 232.9h0M413.0 224.8h0M404.6 237.4h0M398.4 226.8h0M403.7 224.7h0M405.4 234.9h0M412.9 225.9h0M398.8 234.4h0M408.9 222.6h0M402.6 221.9h0M404.6 221.0h0M393.7 222.3h0M394.1 223.2h0M399.9 223.5h0M414.3 234.3h0M398.3 237.7h0M403.6 216.4h0M403.3 218.0h0M398.6 239.1h0M404.8 239.6h0M402.6 224.0h0M397.5 221.9h0M410.5 230.2h0M412.7 227.5h0M412.9 237.6h0M393.8 232.0h0M393.8 224.5h0M395.1 231.2h0M395.0 218.1h0M409.7 232.3h0M390.8 240.2h0M389.7 238.6h0M386.3 231.2h0M388.4 229.9h0M387.7 231.6h0M388.1 222.8h0M385.2 237.4h0M390.9 226.1h0M384.9 226.7h0M391.0 230.9h0M391.8 231.9h0" stroke="#008000" stroke-width="2.15" stroke-linecap="round" fill="none"/>
<path d="M371.30 260.40V253.40M371.30 6.85V13.85M455.03 260.40V253.40M455.03 6.85V13.85M538.76 260.40V253.40M538.76 6.85V13.85M622.49 260.40V253.40M622.49 6.85V13.85M363.15 252.50H370.15M622.49 252.50H615.49M363.15 211.55H370.15M622.49 211.55H615.49M363.15 170.60H370.15M622.49 170.60H615.49M363.15 129.65H370.15M622.49 129.65H615.49M363.15 88.70H370.15M622.49 88.70H615.49M363.15 47.75H370.15M622.49 47.75H615.49M363.15 6.80H370.15M622.49 6.80H615.49" stroke="#000" stroke-width="0.90" fill="none"/>
<path d="M388.05 260.40V257.10M388.05 6.85V10.15M404.79 260.40V257.10M404.79 6.85V10.15M421.54 260.40V257.10M421.54 6.85V10.15M438.28 260.40V257.10M438.28 6.85V10.15M471.78 260.40V257.10M471.78 6.85V10.15M488.52 260.40V257.10M488.52 6.85V10.15M505.27 260.40V257.10M505.27 6.85V10.15M522.01 260.40V257.10M522.01 6.85V10.15M555.51 260.40V257.10M555.51 6.85V10.15M572.25 260.40V257.10M572.25 6.85V10.15M589.00 260.40V257.10M589.00 6.85V10.15M605.74 260.40V257.10M605.74 6.85V10.15M363.15 244.31H366.45M622.49 244.31H619.19M363.15 236.12H366.45M622.49 236.12H619.19M363.15 227.93H366.45M622.49 227.93H619.19M363.15 219.74H366.45M622.49 219.74H619.19M363.15 203.36H366.45M622.49 203.36H619.19M363.15 195.17H366.45M622.49 195.17H619.19M363.15 186.98H366.45M622.49 186.98H619.19M363.15 178.79H366.45M622.49 178.79H619.19M363.15 162.41H366.45M622.49 162.41H619.19M363.15 154.22H366.45M622.49 154.22H619.19M363.15 146.03H366.45M622.49 146.03H619.19M363.15 137.84H366.45M622.49 137.84H619.19M363.15 121.46H366.45M622.49 121.46H619.19M363.15 113.27H366.45M622.49 113.27H619.19M363.15 105.08H366.45M622.49 105.08H619.19M363.15 96.89H366.45M622.49 96.89H619.19M363.15 80.51H366.45M622.49 80.51H619.19M363.15 72.32H366.45M622.49 72.32H619.19M363.15 64.13H366.45M622.49 64.13H619.19M363.15 55.94H366.45M622.49 55.94H619.19M363.15 39.56H366.45M622.49 39.56H619.19M363.15 31.37H366.45M622.49 31.37H619.19M363.15 23.18H366.45M622.49 23.18H619.19M363.15 14.99H366.45M622.49 14.99H619.19" stroke="#333" stroke-width="0.70" fill="none"/>
<text transform="translate(370.55 275.20) scale(0.865 1)" text-anchor="middle" class="tx">0</text>
<text transform="translate(454.28 275.20) scale(0.865 1)" text-anchor="middle" class="tx">10</text>
<text transform="translate(538.01 275.20) scale(0.865 1)" text-anchor="middle" class="tx">20</text>
<text transform="translate(621.74 275.20) scale(0.865 1)" text-anchor="middle" class="tx">30</text>
<text transform="translate(359.55 257.65) scale(0.930 1)" text-anchor="end" class="t">0</text>
<text transform="translate(359.55 216.70) scale(0.930 1)" text-anchor="end" class="t">5</text>
<text transform="translate(359.55 175.75) scale(0.930 1)" text-anchor="end" class="t">10</text>
<text transform="translate(359.55 134.80) scale(0.930 1)" text-anchor="end" class="t">15</text>
<text transform="translate(359.55 93.85) scale(0.930 1)" text-anchor="end" class="t">20</text>
<text transform="translate(359.55 52.90) scale(0.930 1)" text-anchor="end" class="t">25</text>
<text transform="translate(359.55 11.95) scale(0.930 1)" text-anchor="end" class="t">30</text>
<line x1="41.45" y1="208.40" x2="300.79" y2="208.40" stroke="#0000ff" stroke-width="1" stroke-dasharray="3.0 1.55"/>
<line x1="416.51" y1="260.40" x2="416.51" y2="6.85" stroke="#0000ff" stroke-width="1" stroke-dasharray="2.99 1.545"/>
<rect x="41.45" y="6.85" width="259.34" height="253.55" fill="none" stroke="#000" stroke-width="1.25"/>
<rect x="363.15" y="6.85" width="259.34" height="253.55" fill="none" stroke="#000" stroke-width="1.25"/>
<rect x="193.50" y="13.70" width="100.10" height="46.20" rx="3" ry="3" fill="#fff" fill-opacity="0.8" stroke="#a0a0a0" stroke-width="1"/>
<line x1="199.00" y1="25.50" x2="228.50" y2="25.50" stroke="#bf00bf" stroke-width="1" stroke-dasharray="2.99 1.545"/>
<text x="238.40" y="30.70" class="lg" font-size="14" font-style="italic" textLength="8.60" lengthAdjust="spacingAndGlyphs">σ</text>
<text x="251.20" y="31.90" class="lg" textLength="9.60" lengthAdjust="spacingAndGlyphs">=</text>
<text x="265.30" y="30.70" class="lg" font-size="16.3" textLength="22.40" lengthAdjust="spacingAndGlyphs">3.4°</text>
<line x1="199.00" y1="46.50" x2="228.50" y2="46.50" stroke="#0000ff" stroke-width="1" stroke-dasharray="2.99 1.545"/>
<text x="238.40" y="51.70" class="lg" font-size="14" font-style="italic" textLength="8.60" lengthAdjust="spacingAndGlyphs">σ</text>
<text x="251.20" y="52.90" class="lg" textLength="9.60" lengthAdjust="spacingAndGlyphs">=</text>
<text x="265.30" y="51.70" class="lg" font-size="16.3" textLength="22.40" lengthAdjust="spacingAndGlyphs">5.4°</text>
<rect x="515.40" y="13.70" width="100.10" height="46.20" rx="3" ry="3" fill="#fff" fill-opacity="0.8" stroke="#a0a0a0" stroke-width="1"/>
<line x1="520.90" y1="25.50" x2="550.40" y2="25.50" stroke="#0000ff" stroke-width="1" stroke-dasharray="2.99 1.545"/>
<text x="560.30" y="30.70" class="lg" font-size="14" font-style="italic" textLength="8.60" lengthAdjust="spacingAndGlyphs">σ</text>
<text x="573.10" y="31.90" class="lg" textLength="9.60" lengthAdjust="spacingAndGlyphs">=</text>
<text x="587.20" y="30.70" class="lg" font-size="16.3" textLength="22.40" lengthAdjust="spacingAndGlyphs">5.4°</text>
<line x1="520.90" y1="46.50" x2="550.40" y2="46.50" stroke="#ffa500" stroke-width="1" stroke-dasharray="2.99 1.545"/>
<text x="560.30" y="51.70" class="lg" font-size="14" font-style="italic" textLength="8.60" lengthAdjust="spacingAndGlyphs">σ</text>
<text x="573.10" y="52.90" class="lg" textLength="9.60" lengthAdjust="spacingAndGlyphs">=</text>
<text x="587.20" y="51.70" class="lg" font-size="16.3" textLength="22.40" lengthAdjust="spacingAndGlyphs">4.6°</text>
<g transform="translate(97.60 290.05)"><text x="-0.52" y="1.0" font-size="16.5" font-style="italic" textLength="8.69" lengthAdjust="spacingAndGlyphs">σ</text><text x="9.70" y="2.70" font-size="12.5" textLength="101.05" lengthAdjust="spacingAndGlyphs">ALMA−LMT−SMT</text><text x="111.72" y="0" font-size="18.0" textLength="34.65" lengthAdjust="spacingAndGlyphs">(deg)</text></g>
<g transform="translate(423.60 290.05)"><text x="-0.52" y="1.0" font-size="16.5" font-style="italic" textLength="8.69" lengthAdjust="spacingAndGlyphs">σ</text><text x="9.70" y="2.70" font-size="12.5" textLength="92.04" lengthAdjust="spacingAndGlyphs">ALMA−PV−SMT</text><text x="102.62" y="0" font-size="18.0" textLength="34.65" lengthAdjust="spacingAndGlyphs">(deg)</text></g>
<g transform="translate(14.45 202.80) rotate(-90)"><text x="-0.52" y="1.0" font-size="16.5" font-style="italic" textLength="8.69" lengthAdjust="spacingAndGlyphs">σ</text><text x="9.70" y="2.70" font-size="12.5" textLength="92.14" lengthAdjust="spacingAndGlyphs">ALMA−PV−SMT</text><text x="102.72" y="0" font-size="18.0" textLength="34.65" lengthAdjust="spacingAndGlyphs">(deg)</text></g>
<g transform="translate(336.65 202.50) rotate(-90)"><text x="-0.52" y="1.0" font-size="16.5" font-style="italic" textLength="8.69" lengthAdjust="spacingAndGlyphs">σ</text><text x="9.70" y="2.70" font-size="12.5" textLength="91.58" lengthAdjust="spacingAndGlyphs">ALMA−PV−LMT</text><text x="102.22" y="0" font-size="18.0" textLength="34.65" lengthAdjust="spacingAndGlyphs">(deg)</text></g>
</svg>
</body></html>
